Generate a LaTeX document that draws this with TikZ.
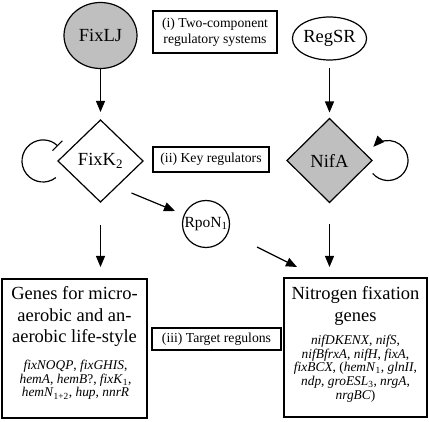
\documentclass[tikz,border=0pt]{standalone}
\usepackage{fontspec}
\setmainfont{Liberation Serif}
\usetikzlibrary{shapes.geometric,arrows.meta,calc}
\begin{document}
\begin{tikzpicture}[x=1pt,y=-1pt,
 every node/.style={inner sep=0pt, outer sep=0pt},
 ln/.style={line width=1.2pt},
 arr/.style={line width=1.2pt, -{Triangle[length=11pt,width=9pt]}},
 ell/.style={ellipse, draw, line width=1.2pt, font=\fontsize{18.5}{20}\selectfont},
 dia/.style={diamond, draw, line width=1.2pt, font=\fontsize{18.5}{20}\selectfont},
 lbl/.style={draw, line width=1.2pt, align=center, font=\fontsize{13.7}{16.5}\selectfont},
 gbox/.style={draw, line width=1.4pt},
 ttl/.style={align=center, font=\fontsize{18.5}{21.7}\selectfont},
 lst/.style={align=center, font=\fontsize{13.4}{13.7}\selectfont},
 grayfill/.style={fill=gray!50}
]
\useasboundingbox (0,0) rectangle (429,422);
% top row
\node[ell, grayfill, minimum width=73pt, minimum height=66pt] (fixlj) at (100.5,35.5) {FixLJ};
\node[lbl, minimum width=124pt, minimum height=42pt] (box1) at (215,32) {(i) Two-component\\regulatory systems};
\node[ell, minimum width=73pt, minimum height=43pt] (regsr) at (329.5,38.5) {RegSR};
% middle row
\node[dia, minimum width=85pt, minimum height=82pt] (fixk) at (100.5,161) {FixK\textsubscript{2}};
\node[lbl, minimum width=116pt, minimum height=25pt] (box2) at (211,159.5) {(ii) Key regulators};
\node[dia, grayfill, minimum width=85pt, minimum height=84pt] (nifa) at (329.5,160.5) {NifA};
\node[circle, draw, line width=1.2pt, minimum size=47pt, font=\fontsize{15.5}{17}\selectfont] (rpon) at (206,224) {RpoN\textsubscript{1}};
% bottom row
\node[gbox, minimum width=145pt, minimum height=139pt] (leftbox) at (74.5,348.5) {};
\node[ttl] (lefttitle) at (74.5,316.5) {Genes for micro-\\aerobic and an-\\aerobic life-style};
\node[lst] (leftlist) at (75.5,380) {\textit{fixNOQP}, \textit{fixGHIS},\\\textit{hemA}, \textit{hemB}?, \textit{fixK}\textsubscript{1},\\\textit{hemN}\textsubscript{1+2}, \textit{hup}, \textit{nnrR}};
\node[lbl, minimum width=129pt, minimum height=22pt] (box3) at (216.5,339) {(iii) Target regulons};
\node[gbox, minimum width=143pt, minimum height=139pt] (rightbox) at (355.5,347.5) {};
\node[ttl] (righttitle) at (355.5,306) {Nitrogen fixation\\genes};
\node[lst] (rightlist) at (355.5,368.5) {\textit{nifDKENX}, \textit{nifS},\\\textit{nifBfrxA}, \textit{nifH}, \textit{fixA},\\\textit{fixBCX}, (\textit{hemN}\textsubscript{1}, \textit{glnII},\\\textit{ndp}, \textit{groESL}\textsubscript{3}, \textit{nrgA},\\\textit{nrgBC})};
% arrows
\draw[arr, shorten <=1pt, shorten >=8pt] (fixlj) -- (fixk);
\draw[arr, shorten <=8pt, shorten >=6pt] (regsr) -- (nifa);
\draw[arr, shorten <=23pt, shorten >=12pt] (fixk.south) -- (fixk.south |- leftbox.north);
\draw[arr, shorten <=22pt, shorten >=11pt] (nifa.south) -- (nifa.south |- rightbox.north);
\draw[arr] ($(fixk.center)+(31,32)$) -- ($(rpon.center)+(-31,-13)$);
\draw[arr] ($(rpon.center)+(51,23)$) -- ($(rightbox.north west)+(13,-11)$);
% self loops
\coordinate (fkc) at ($(fixk.west)+(-15,0)$);
\draw[ln, -{Bar[width=14pt]}] ($(fkc)+(-52:21pt)$) arc[start angle=-52, end angle=-315, radius=21pt];
\coordinate (nfc) at ($(nifa.east)+(16,0)$);
\draw[ln, -{Triangle[length=11pt,width=9pt]}] ($(nfc)+(-140:20pt)$) arc[start angle=-140, end angle=137, radius=20pt];
\end{tikzpicture}
\end{document}
